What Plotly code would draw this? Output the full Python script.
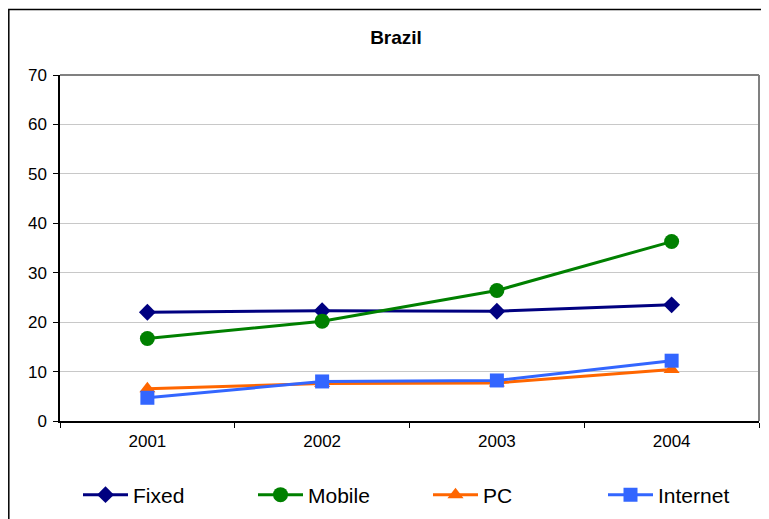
import plotly.graph_objects as go

years = ["2001", "2002", "2003", "2004"]
fixed = [22.0, 22.3, 22.2, 23.5]
mobile = [16.7, 20.2, 26.4, 36.3]
pc = [6.5, 7.6, 7.7, 10.4]
internet = [4.7, 8.0, 8.2, 12.2]

W, H = 769, 519
OFF = 8  # page body margin offset
# plot area in screen pixels: x 60..759, y 75..421
L = 60 - OFF
T = 75 - OFF
R = W - (759 - OFF)
B = H - (421 - OFF)
pw = W - L - R
ph = H - T - B

def px2x(px):
    return (px - OFF - L) / pw

def py2y(py):
    return (H - B - (py - OFF)) / ph

FONT = "Liberation Sans, Arial, sans-serif"

series = [
    ("Fixed", fixed, "#000080", "diamond", 13),
    ("Mobile", mobile, "#008000", "circle", 15),
    ("PC", pc, "#FF6600", "triangle-up", 14),
    ("Internet", internet, "#3366FF", "square", 14),
]

fig = go.Figure()
for name, vals, col, sym, sz in series:
    fig.add_trace(go.Scatter(
        x=years, y=vals, name=name, mode="lines+markers",
        line=dict(color=col, width=3),
        marker=dict(symbol=sym, size=sz, color=col, line=dict(width=0)),
    ))

shapes = [
    # outer chart frame
    dict(type="rect", xref="paper", yref="paper",
         x0=px2x(OFF + 0.8), y0=py2y(540), x1=px2x(790), y1=py2y(9.5),
         line=dict(color="black", width=1.5), layer="below"),
    # plot area top and right border (gray)
    dict(type="line", xref="paper", yref="paper", x0=0, y0=1, x1=1, y1=1,
         line=dict(color="#808080", width=2)),
    dict(type="line", xref="paper", yref="paper", x0=1, y0=0, x1=1, y1=1,
         line=dict(color="#808080", width=2)),
]

fig.update_layout(
    width=W, height=H,
    margin=dict(l=L, r=R, t=T, b=B, autoexpand=False),
    paper_bgcolor="white", plot_bgcolor="white",
    font=dict(family=FONT, size=17, color="black"),
    title=dict(text="<b>Brazil</b>", x=(396 - OFF) / W, xanchor="center",
               y=1 - (37 - OFF) / H, yanchor="middle", yref="container",
               font=dict(family=FONT, size=19, color="black")),
    showlegend=True,
    legend=dict(orientation="h", xref="container", yref="container",
                x=(84 - OFF - 6) / W, xanchor="left",
                y=1 - (495 - OFF) / H, yanchor="middle",
                font=dict(family=FONT, size=21, color="black"),
                entrywidth=115, entrywidthmode="pixels",
                itemwidth=45, bgcolor="rgba(0,0,0,0)"),
    shapes=shapes,
)
fig.update_xaxes(
    type="category", range=[-0.5, 3.5],
    showline=True, linecolor="black", linewidth=1.5,
    ticks="outside", tickson="boundaries", ticklen=5, tickcolor="black",
    showgrid=False, zeroline=False, ticklabelstandoff=4,
    tickfont=dict(family=FONT, size=17, color="black"),
)
fig.update_yaxes(
    range=[0, 70], dtick=10,
    showline=True, linecolor="black", linewidth=1.5,
    ticks="outside", ticklen=5, tickcolor="black",
    showgrid=True, gridcolor="#C8C8C8", gridwidth=1.2, zeroline=False,
    ticklabelstandoff=3,
    tickfont=dict(family=FONT, size=17, color="black"),
)

fig.write_html("out.html")
